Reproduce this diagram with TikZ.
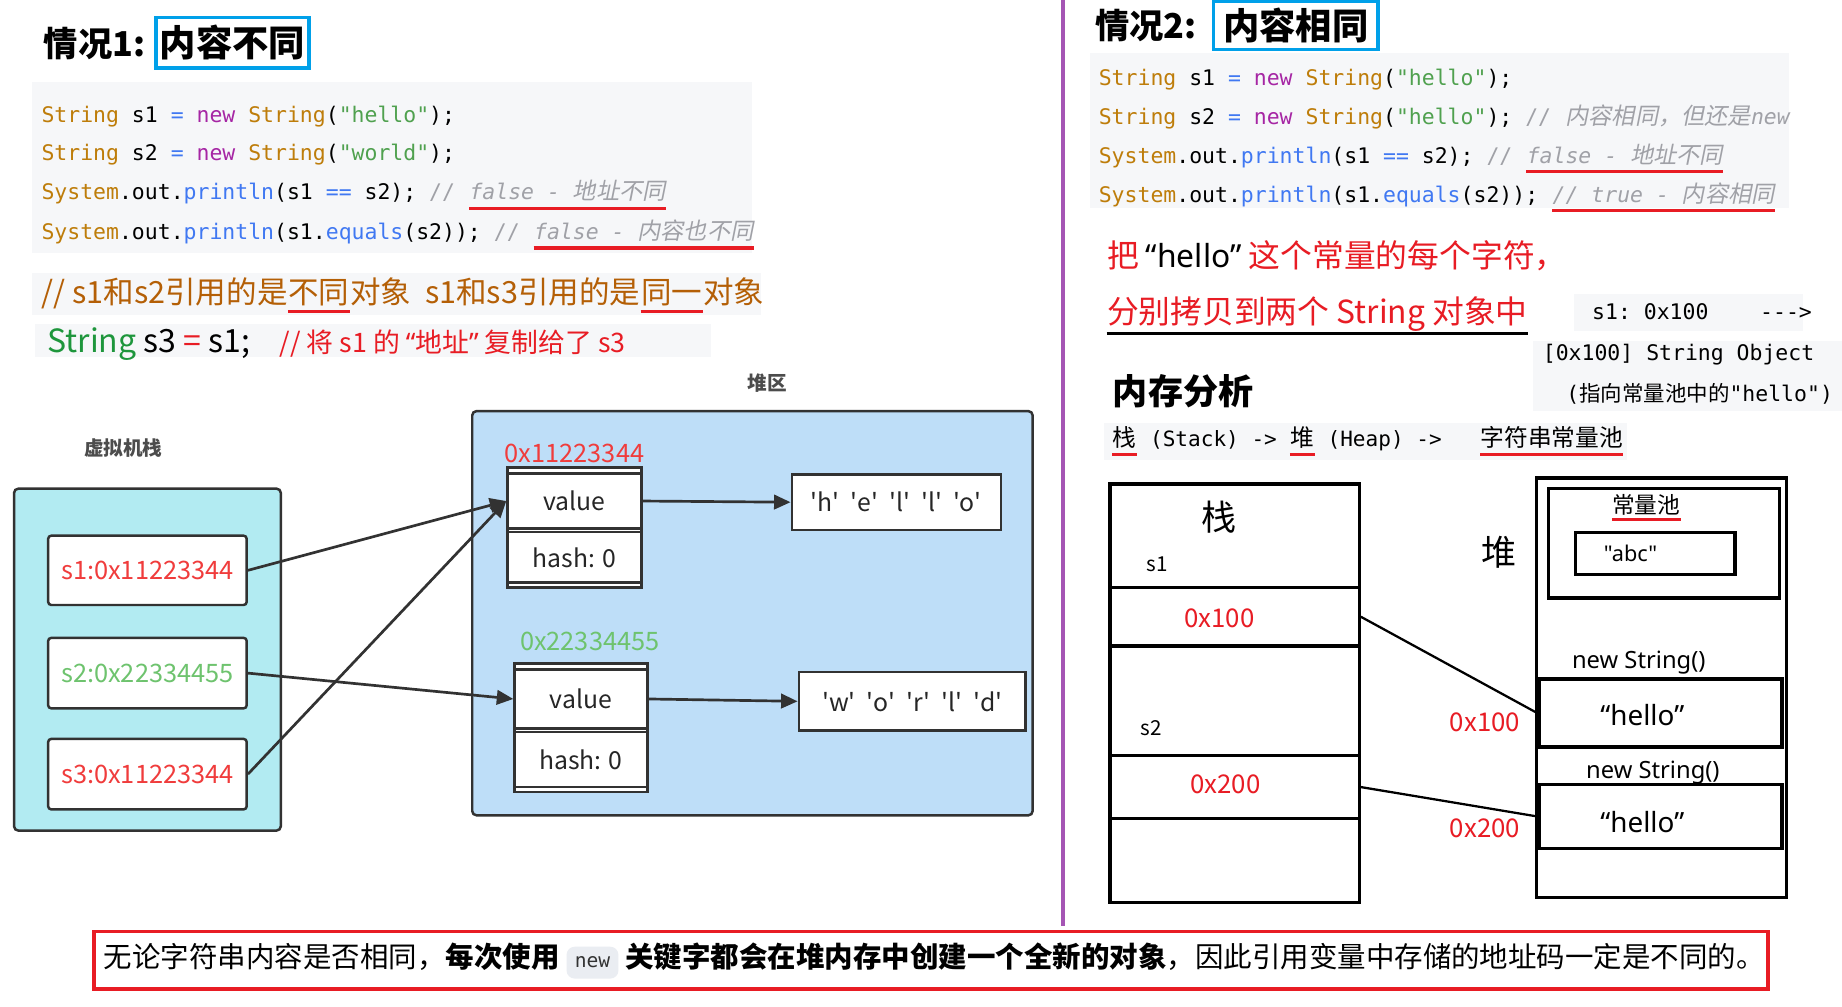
\documentclass[tikz,border=0pt]{standalone}
\usepackage{fontspec}
\setmainfont{Noto Sans CJK SC}
\setmonofont{DejaVu Sans Mono}
\newfontfamily\cjkit{Noto Sans CJK SC}[FakeSlant=0.2,Scale=1.08]
\newfontfamily\lat{Noto Sans}
\usetikzlibrary{arrows.meta,fit,positioning}

\definecolor{cCyan}{RGB}{0,160,233}
\definecolor{cType}{RGB}{190,125,10}
\definecolor{cNew}{RGB}{166,38,164}
\definecolor{cStr}{RGB}{80,161,79}
\definecolor{cFun}{RGB}{64,120,242}
\definecolor{cCom}{RGB}{160,161,167}
\definecolor{cRed}{RGB}{232,28,36}
\definecolor{cBrown}{RGB}{180,95,6}
\definecolor{cGreenS}{RGB}{30,150,60}
\definecolor{cCodeBg}{RGB}{246,247,249}
\definecolor{cStack}{RGB}{178,235,242}
\definecolor{cHeap}{RGB}{190,222,248}
\definecolor{cAddrRed}{RGB}{240,60,60}
\definecolor{cAddrGreen}{RGB}{110,195,110}
\definecolor{cEdge}{RGB}{50,50,50}
\definecolor{cPurple}{RGB}{165,85,180}
\definecolor{cChip}{RGB}{234,237,242}

\newcommand\ty[1]{\textcolor{cType}{#1}}
\newcommand\kw[1]{\textcolor{cNew}{#1}}
\newcommand\st[1]{\textcolor{cStr}{#1}}
\newcommand\fn[1]{\textcolor{cFun}{#1}}
\newcommand\op[1]{\textcolor{cFun}{#1}}
\newcommand\cm[1]{\textcolor{cCom}{#1}}
\newcommand\chq[1]{\textquotesingle#1\textquotesingle}
\newcommand\fsz[1]{\fontsize{#1}{#1}\selectfont}

\tikzset{
  code/.style={inner sep=0pt, anchor=west, font=\ttfamily\fsz{10.4pt}},
  cmt/.style={inner sep=0pt, anchor=base west, font=\ttfamily\itshape\fsz{10.4pt}, text=cCom},
  seg/.style={inner sep=0pt, anchor=base west},
  brn/.style={seg, font=\fsz{14.8pt}, text=cBrown},
  uline/.style={draw=cRed, line width=1.5pt},
  ttl/.style={anchor=west, inner sep=0pt, font=\bfseries\fsz{16.6pt}},
  ttlbox/.style={draw=cCyan, line width=1.7pt, inner sep=0pt},
  pane/.style={draw=cEdge, line width=1.2pt, rounded corners=2pt, inner sep=0pt},
  refbox/.style={draw=cEdge, fill=white, line width=1.2pt, rounded corners=1.5pt, inner sep=0pt},
  cell/.style={draw=cEdge, fill=white, line width=1.2pt, inner sep=0pt},
  addr/.style={font=\fsz{12.3pt}},
  celltxt/.style={font=\fsz{12pt}, text=black!85},
  arr/.style={draw=cEdge, line width=1.3pt, -{Triangle[length=8pt,width=7pt]}},
  blk/.style={draw=black, line width=1.6pt, inner sep=0pt},
  link/.style={draw=black, line width=1.1pt},
  chip/.style={fill=cChip, rounded corners=4pt, text=cEdge, font=\ttfamily\fsz{9.5pt}, inner xsep=4pt, inner ysep=5pt},
  lbl/.style={font=\bfseries\fsz{9.5pt}, text=black!70}
}

\begin{document}
\begin{tikzpicture}[x=0.02cm, y=-0.02cm]
\useasboundingbox (0,0) rectangle (1568,857);
\fill[white] (0,0) rectangle (1568,857);

% ---- case 1
\node[ttl] (t1) at (37,37) {情况1:};
\node[ttlbox, fit={(133,15) (263,58)}] (t1b) {};
\node[font=\bfseries\fsz{17.6pt}] (t1bt) at (t1b.center) {内容不同};

\fill[cCodeBg] (27,70) rectangle (640,215);
\node[code] (lc1) at (35,99) {\ty{String} s1 \op{=} \kw{new} \ty{String}(\st{"hello"});};
\node[code] (lc2) at (35,132) {\ty{String} s2 \op{=} \kw{new} \ty{String}(\st{"world"});};
\node[code] (lc3) at (35,165) {\ty{System}.out.\fn{println}(s1 \op{==} s2); \cm{//}};
\node[cmt] (lm3) at ([xshift=6.6pt]lc3.base east) {false - {\cjkit 地址不同}};
\node[code] (lc4) at (35,199) {\ty{System}.out.\fn{println}(s1.\fn{equals}(s2)); \cm{//}};
\node[cmt] (lm4) at ([xshift=6.6pt]lc4.base east) {false - {\cjkit 内容也不同}};
\draw[uline] ([yshift=-4pt]lm3.base west) -- ([yshift=-4pt]lm3.base east);
\draw[uline] ([yshift=-4pt]lm4.base west) -- ([yshift=-4pt]lm4.base east);

\fill[cCodeBg] (27,232) rectangle (648,268);
\node[brn] (n1) at (35,258) {// s1和s2引用的是};
\node[brn] (n2) at (n1.base east) {不同};
\node[brn] (n3) at (n2.base east) {对象\ \ s1和s3引用的是};
\node[brn] (n4) at (n3.base east) {同一};
\node[brn] (n5) at (n4.base east) {对象};
\draw[uline] ([yshift=-4pt]n2.base west) -- ([yshift=-4pt]n2.base east);
\draw[uline] ([yshift=-4pt]n4.base west) -- ([yshift=-4pt]n4.base east);

\fill[cCodeBg] (30,276) rectangle (605,304);
\node[seg, font=\fsz{15.5pt}] (as1) at (40,300) {\textcolor{cGreenS}{String} s3 \textcolor{cRed}{=} s1;};
\node[seg, font=\fsz{13pt}, text=cRed] (as2) at ([xshift=14pt]as1.base east) {// 将 s1 的 {\lat“}地址{\lat”} 复制给了 s3};

% memory picture, case 1
\node[lbl] (heapT) at (653,326) {堆区};
\node[lbl] (stackT) at (105,381) {虚拟机栈};
\node[pane, fill=cStack, fit={(12,416) (239,707)}] (stack) {};
\node[pane, fill=cHeap, fit={(402,350) (879,694)}] (heap) {};

\node[refbox, fit={(41,456) (210,515)}] (s1) {};
\node[addr, text=cAddrRed] (s1t) at (s1.center) {s1:0x11223344};
\node[refbox, fit={(41,543) (210,603)}] (s2) {};
\node[addr, text=cAddrGreen] (s2t) at (s2.center) {s2:0x22334455};
\node[refbox, fit={(41,629) (210,689)}] (s3) {};
\node[addr, text=cAddrRed] (s3t) at (s3.center) {s3:0x11223344};

\node[addr, text=cAddrRed] (o1T) at (489,386) {0x11223344};
\node[cell, fit={(432,398) (546,500)}] (o1) {};
\node[cell, fit={(432,403) (546,450)}] (v1) {};
\node[celltxt] (v1t) at (v1.center) {value};
\node[cell, fit={(432,453) (546,496)}] (h1) {};
\node[celltxt] (h1t) at (h1.center) {hash: 0};
\node[cell, fit={(674,404) (852,451)}] (c1) {};
\node[celltxt] (c1t) at (c1.center) {\chq{h}\ \ \chq{e}\ \ \chq{l}\ \ \chq{l}\ \ \chq{o}};

\node[addr, text=cAddrGreen] (o2T) at (502,546) {0x22334455};
\node[cell, fit={(438,565) (551,674)}] (o2) {};
\node[cell, fit={(438,570) (551,620)}] (v2) {};
\node[celltxt] (v2t) at (v2.center) {value};
\node[cell, fit={(438,623) (551,670)}] (h2) {};
\node[celltxt] (h2t) at (h2.center) {hash: 0};
\node[cell, fit={(680,572) (873,622)}] (c2) {};
\node[celltxt] (c2t) at (c2.center) {\chq{w}\ \ \chq{o}\ \ \chq{r}\ \ \chq{l}\ \ \chq{d}};

\draw[arr] (s1.east) -- (v1.west);
\draw[arr] (s3.east) -- (v1.west);
\draw[arr] (s2.east) -- (v2.west);
\draw[arr] (v1.east) -- (c1.west);
\draw[arr] (v2.east) -- (c2.west);

% divider
\draw[cPurple, line width=2pt] (905,0) -- (905,788);

% ---- case 2
\node[ttl] (t2) at (932,22) {情况2:};
\node[ttlbox, fit={(1033,1) (1173,42)}] (t2b) {};
\node[font=\bfseries\fsz{17.6pt}] (t2bt) at (t2b.center) {内容相同};

\fill[cCodeBg] (928,45) rectangle (1523,177);
\node[code] (rc1) at (935,68) {\ty{String} s1 \op{=} \kw{new} \ty{String}(\st{"hello"});};
\node[code] (rc2) at (935,101) {\ty{String} s2 \op{=} \kw{new} \ty{String}(\st{"hello"}); \cm{//}};
\node[cmt] (rm2) at ([xshift=6.6pt]rc2.base east) {{\cjkit 内容相同，但还是}new};
\node[code] (rc3) at (935,134) {\ty{System}.out.\fn{println}(s1 \op{==} s2); \cm{//}};
\node[cmt] (rm3) at ([xshift=6.6pt]rc3.base east) {false - {\cjkit 地址不同}};
\node[code] (rc4) at (935,167) {\ty{System}.out.\fn{println}(s1.\fn{equals}(s2));};
\node[cmt] (rm4) at ([xshift=6.6pt]rc4.base east) {// true - {\cjkit 内容相同}};
\draw[uline] ([yshift=-4pt]rm3.base west) -- ([yshift=-4pt]rm3.base east);
\draw[uline] ([yshift=-4pt]rm4.base west) -- ([yshift=-4pt]rm4.base east);

\node[seg, font=\fsz{15.4pt}, text=cRed] (p1) at (942,228) {把\ \textcolor{black}{\lat“hello”}\ 这个常量的每个字符，};
\node[seg, font=\fsz{15.4pt}, text=cRed] (p2) at (942,275) {分别拷贝到两个 String 对象中};
\draw[black, line width=1.7pt] ([yshift=-5pt]p2.base west) -- ([yshift=-5pt]p2.base east);

\fill[cCodeBg] (1340,250) rectangle (1535,282);
\node[code] (m1) at (1355,265) {s1:\ 0x100\ \ \ \ --->};
\fill[cCodeBg] (1305,290) rectangle (1568,350);
\node[code] (m2) at (1313,302) {[0x100] String Object};
\node[code] (m3) at (1333,335) {({\rmfamily 指向常量池中的}"hello")};

\node[ttl, font=\bfseries\fsz{17pt}] (ana) at (947,333) {内存分析};

\fill[cCodeBg] (940,360) rectangle (1385,392);
\node[seg, font=\fsz{11.5pt}] (k1) at (947,380) {栈};
\node[seg, font=\ttfamily\fsz{10.2pt}] (k2) at (k1.base east) {\ (Stack)\ ->\ \mbox{}};
\node[seg, font=\fsz{11.5pt}] (k3) at (k2.base east) {堆};
\node[seg, font=\ttfamily\fsz{10.2pt}] (k4) at (k3.base east) {\ (Heap)\ ->\ \ \ \mbox{}};
\node[seg, font=\fsz{11.5pt}] (k5) at (k4.base east) {字符串常量池};
\draw[uline] ([yshift=-4pt]k1.base west) -- ([yshift=-4pt]k1.base east);
\draw[uline] ([yshift=-4pt]k3.base west) -- ([yshift=-4pt]k3.base east);
\draw[uline] ([yshift=-4pt]k5.base west) -- ([yshift=-4pt]k5.base east);

% memory picture, case 2
\node[blk, fit={(945,412) (1157,768)}] (stk) {};
\node[font=\fsz{17pt}] (stkT) at (1038,440) {栈};
\node[font=\fsz{10pt}] (r1) at (985,480) {s1};
\node[font=\fsz{10pt}] (r2) at (980,620) {s2};
\node[blk, fit={(945,500) (1157,550)}] (a1) {};
\node[font=\fsz{12.5pt}, text=cRed] (a1t) at (1038,526) {0x100};
\node[blk, fit={(945,643) (1157,697)}] (a2) {};
\node[font=\fsz{12.5pt}, text=cRed] (a2t) at (1043,668) {0x200};

\node[font=\fsz{17pt}] (hpT) at (1276,470) {堆};
\node[blk, fit={(1308,407) (1521,764)}] (hp) {};
\node[blk, fit={(1318,416) (1515,509)}] (pool) {};
\node[seg, font=\fsz{11pt}] (poolT) at (1372,437) {常量池};
\draw[uline, line width=1.2pt] ([yshift=-3pt]poolT.base west) -- ([yshift=-3pt]poolT.base east);
\node[blk, fit={(1341,453) (1477,489)}] (abc) {};
\node[font=\lat\fsz{10.5pt}] (abcT) at (1388,471) {"abc"};
\node[font=\lat\fsz{11.5pt}] (ns1) at (1395,564) {new String()};
\node[blk, fit={(1310,578) (1517,636)}] (e1) {};
\node[font=\lat\fsz{13.5pt}] (e1t) at (1398,609) {“hello”};
\node[font=\lat\fsz{11.5pt}] (ns2) at (1407,658) {new String()};
\node[blk, fit={(1310,668) (1517,722)}] (e2) {};
\node[font=\lat\fsz{13.5pt}] (e2t) at (1398,700) {“hello”};

\draw[link] (a1.east) -- (e1.west);
\draw[link] (a2.east) -- (e2.west);
\node[font=\fsz{12.5pt}, text=cRed] (l100) at (1264,615) {0x100};
\node[font=\fsz{12.5pt}, text=cRed] (l200) at (1264,705) {0x200};

% ---- summary
\node[draw=cRed, line width=1.8pt, inner sep=0pt, fit={(80,793) (1505,842)}] (note) {};
\node[seg, font=\fsz{13.8pt}] (b1) at (88,824) {无论字符串内容是否相同，\textbf{每次使用}};
\node[chip, anchor=base west] (bnew) at ([xshift=3pt]b1.base east) {new};
\node[seg, font=\fsz{13.8pt}] (b2) at ([xshift=3pt]bnew.base east) {\textbf{关键字都会在堆内存中创建一个全新的对象}，因此引用变量中存储的地址码一定是不同的。};
\end{tikzpicture}
\end{document}
